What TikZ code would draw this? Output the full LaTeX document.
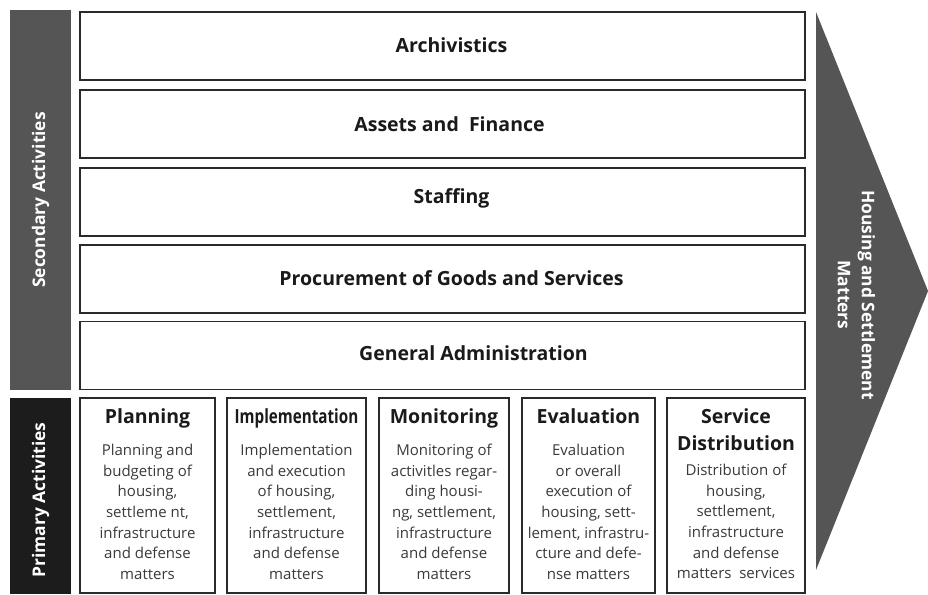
\documentclass[tikz,border=0pt]{standalone}
\usepackage{fontspec}
\setmainfont{Open Sans}
\definecolor{sidegray}{HTML}{555555}
\definecolor{sideblack}{HTML}{1C1C1C}
\definecolor{boxline}{HTML}{2A2A2A}
\definecolor{titlecol}{HTML}{1A1A1A}
\definecolor{bodycol}{HTML}{3A3A3A}
\begin{document}
\begin{tikzpicture}[x=1pt,y=-1pt,
  secbox/.style={draw=boxline, line width=1.8pt, fill=white, minimum width=725pt, minimum height=68pt, inner sep=0pt},
  sectext/.style={inner sep=0pt, font=\bfseries\fontsize{19.5}{23}\selectfont, text=titlecol},
  pribox/.style={draw=boxline, line width=1.8pt, fill=white, minimum height=195pt, inner sep=0pt},
  pritit/.style={anchor=north, inner sep=0pt, align=center, font=\bfseries\fontsize{19.5}{27}\selectfont, text=titlecol},
  pribody/.style={anchor=north, inner sep=0pt, align=center, font=\fontsize{15}{20.6}\selectfont, text=bodycol},
  sidelabel/.style={rotate=90, text=white, font=\bfseries\fontsize{17.4}{20}\selectfont, inner sep=0pt}
]
\useasboundingbox (0,0) rectangle (928,594);
\fill[white] (0,0) rectangle (928,594);

% side bars
\node[fill=sidegray, minimum width=61pt, minimum height=380pt, inner sep=0pt] (secbar) at (40.5,200) {};
\node[sidelabel] (seclab) at (secbar.center) {Secondary Activities};
\node[fill=sideblack, minimum width=61pt, minimum height=196pt, inner sep=0pt] (pribar) at (40.5,496) {};
\node[sidelabel] (prilab) at (40.5,500) {Primary Activities};

% arrow
\fill[sidegray] (816,12) -- (928,291) -- (816,570) -- cycle;
\node[rotate=-90, text=white, align=center, font=\bfseries\fontsize{17.4}{24}\selectfont, inner sep=0pt] (arrlab) at (856.5,295) {Housing and Settlement\\Matters};

% secondary boxes
\node[secbox] (s1) at (442.5,46) {};
\node[secbox] (s2) at (442.5,124) {};
\node[secbox] (s3) at (442.5,202) {};
\node[secbox] (s4) at (442.5,279) {};
\node[secbox] (s5) at (442.5,355.5) {};
\node[sectext] (s1t) at ([xshift=9pt,yshift=1pt]s1.center) {Archivistics};
\node[sectext] (s2t) at ([xshift=7pt]s2.center) {Assets and\ \ Finance};
\node[sectext] (s3t) at ([xshift=9pt,yshift=4pt]s3.center) {Staffing};
\node[sectext] (s4t) at ([xshift=9pt,yshift=1pt]s4.center) {Procurement of Goods and Services};
\node[sectext] (s5t) at ([xshift=31pt,yshift=2pt]s5.center) {General Administration};

% primary boxes
\node[pribox, minimum width=135pt] (p1) at (147.5,495.5) {};
\node[pribox, minimum width=139pt] (p2) at (296.5,495.5) {};
\node[pribox, minimum width=130pt] (p3) at (444,495.5) {};
\node[pribox, minimum width=133pt] (p4) at (588.5,495.5) {};
\node[pribox, minimum width=138pt] (p5) at (736,495.5) {};

\node[pritit] (p1t) at ([yshift=-11pt]p1.north) {Planning};
\node[pritit] (p2t) at ([yshift=-11pt]p2.north) {\scalebox{0.78}[1]{Implementation}};
\node[pritit] (p3t) at ([yshift=-11pt]p3.north) {Monitoring};
\node[pritit] (p4t) at ([yshift=-11pt]p4.north) {Evaluation};
\node[pritit] (p5t) at ([yshift=-11pt]p5.north) {Service\\Distribution};

\node[pribody] (p1b) at ([yshift=-47pt]p1.north) {Planning and\\budgeting of\\housing,\\settleme nt,\\infrastructure\\and defense\\matters};
\node[pribody] (p2b) at ([yshift=-47pt]p2.north) {Implementation\\and execution\\of housing,\\settlement,\\infrastructure\\and defense\\matters};
\node[pribody] (p3b) at ([yshift=-47pt]p3.north) {Monitoring of\\activitles regar-\\ding housi-\\ng, settlement,\\infrastructure\\and defense\\matters};
\node[pribody] (p4b) at ([yshift=-47pt]p4.north) {Evaluation\\or overall\\execution of\\housing, sett-\\lement, infrastru-\\cture and defe-\\nse matters};
\node[pribody] (p5b) at ([yshift=-67pt]p5.north) {Distribution of\\housing,\\settlement,\\infrastructure\\and defense\\matters\ \ services};
\end{tikzpicture}
\end{document}
